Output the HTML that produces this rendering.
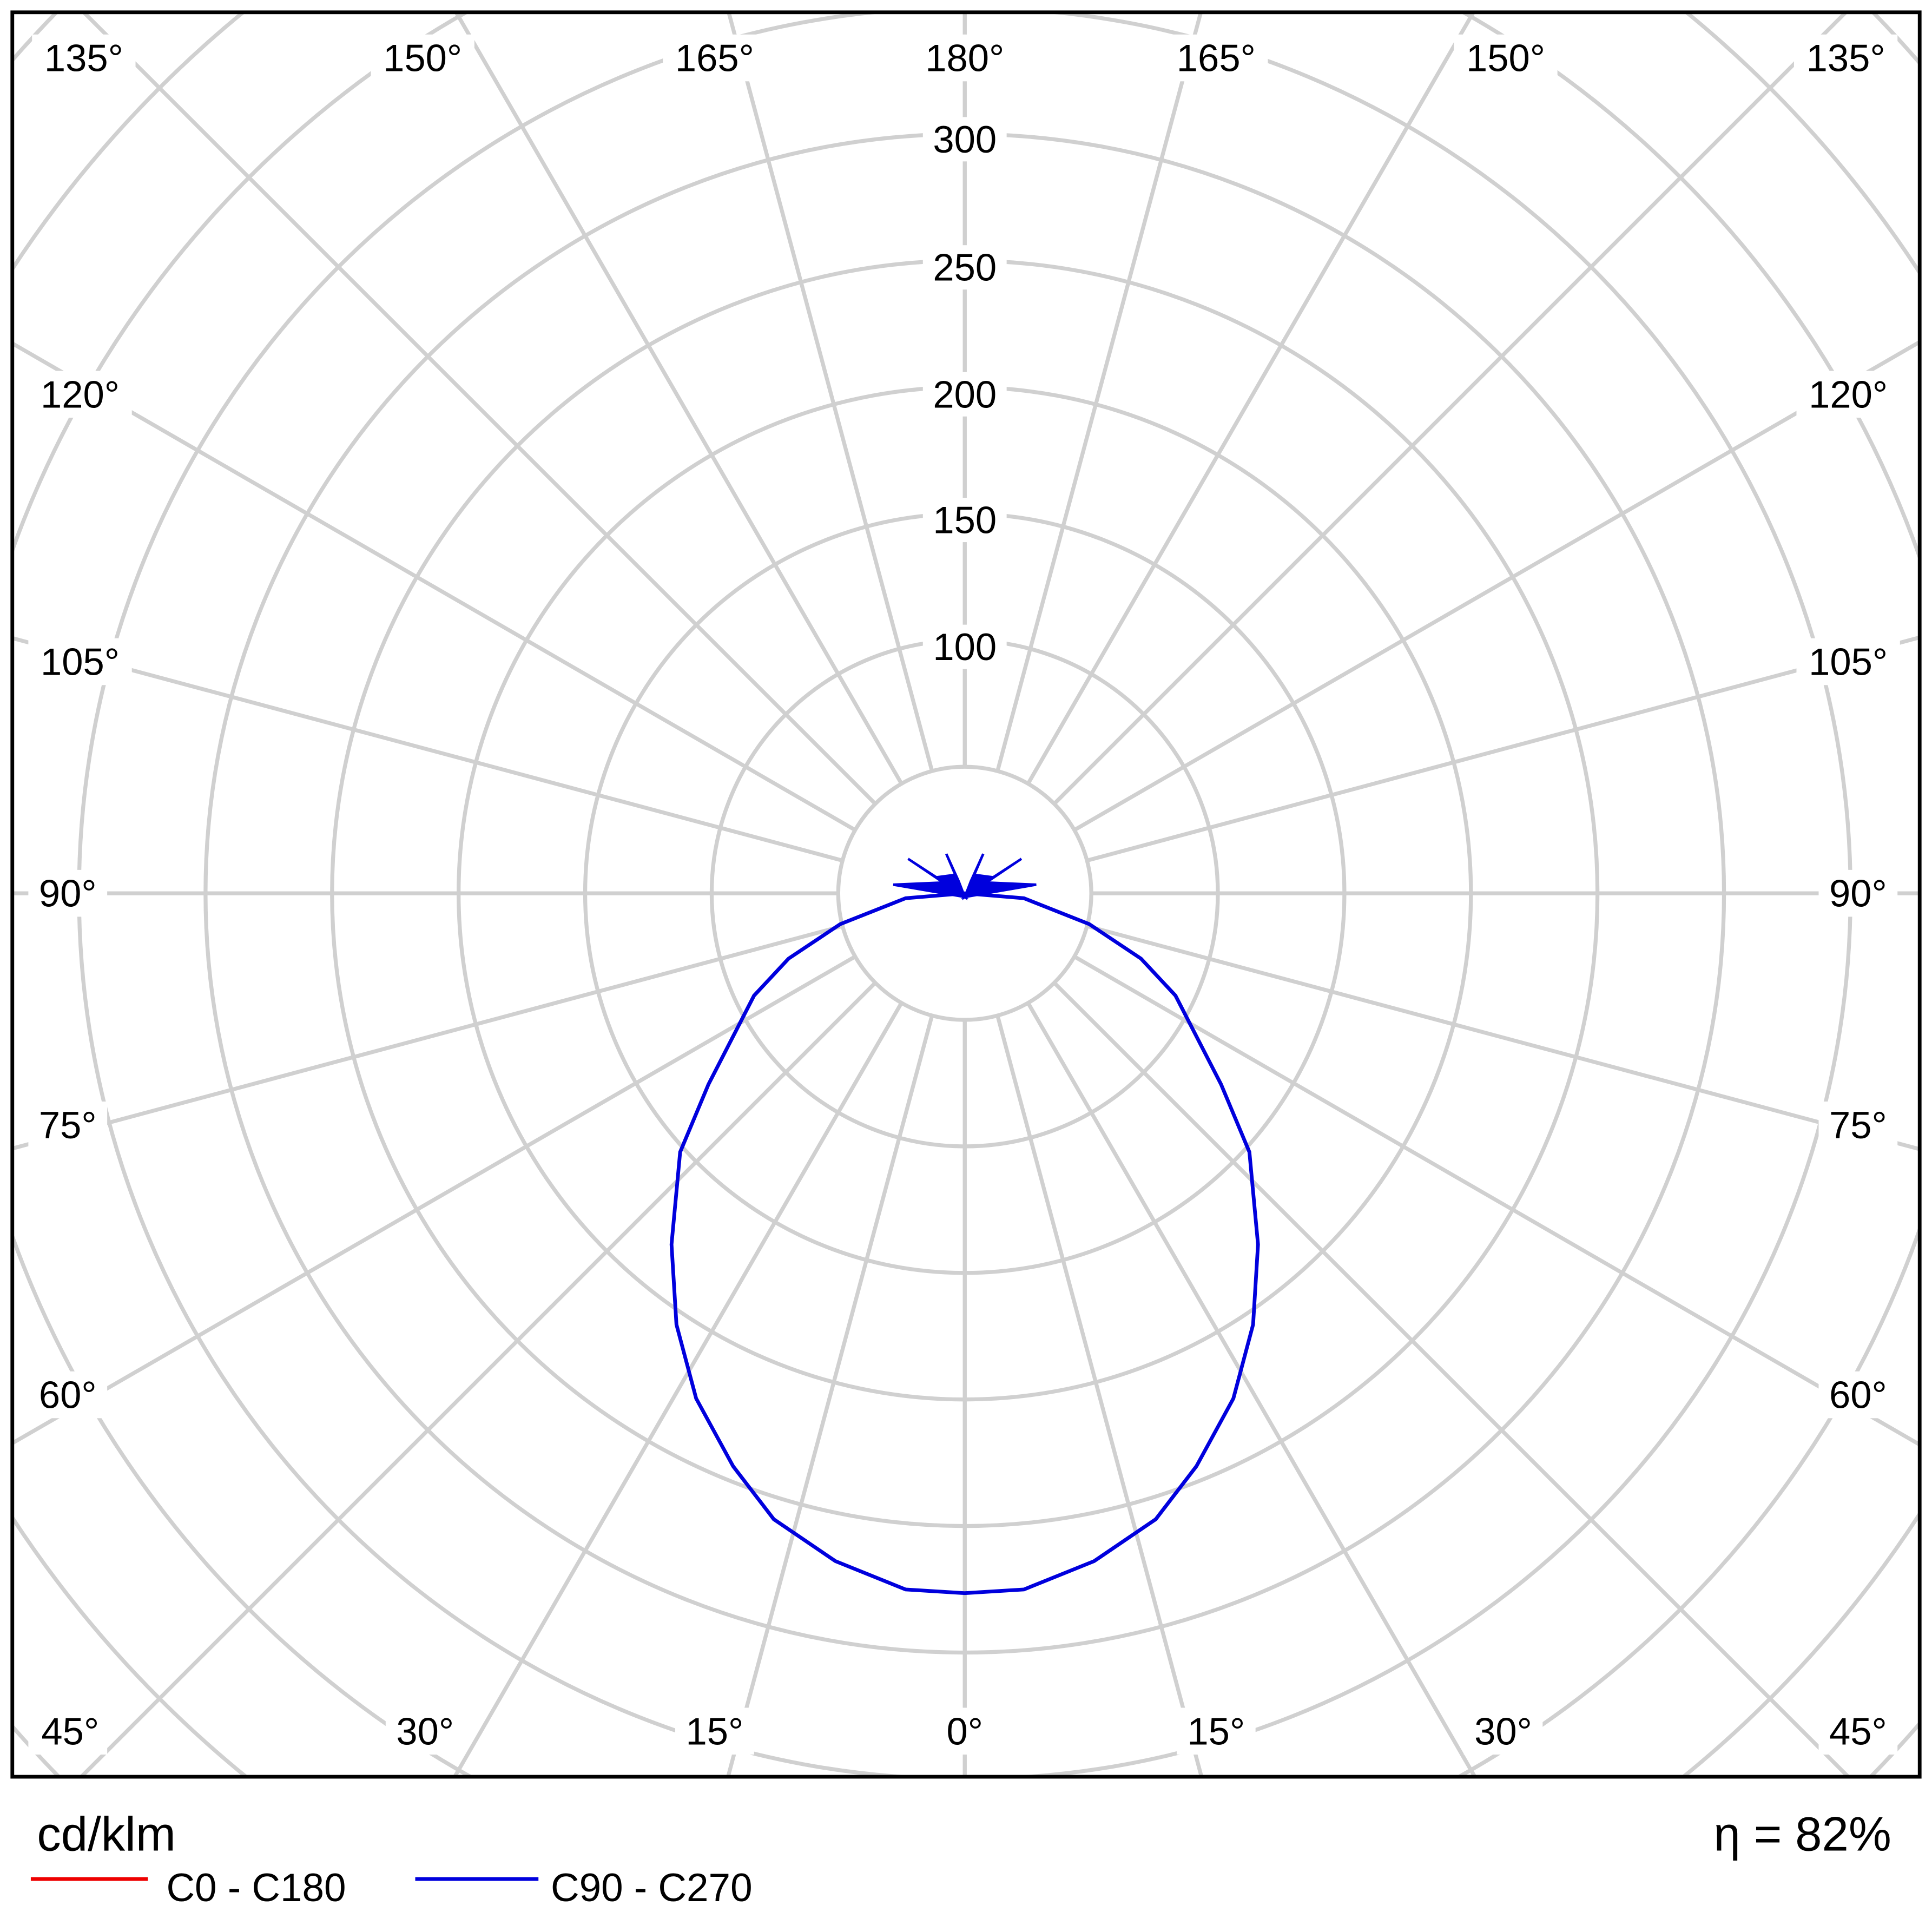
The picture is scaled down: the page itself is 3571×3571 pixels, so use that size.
<!DOCTYPE html>
<html><head><style>html,body{margin:0;padding:0;background:#fff;width:3571px;height:3571px;overflow:hidden;position:relative}svg{display:block;position:absolute;left:0;top:0}</style></head>
<body>
<svg width="3571" height="3571" viewBox="0 0 1568 1568" xmlns="http://www.w3.org/2000/svg" font-family="'Liberation Sans', 'DejaVu Sans', sans-serif">
<defs><clipPath id="c"><rect x="10" y="10" width="1548" height="1432"/></clipPath></defs>
<rect width="1568" height="1568" fill="#fff"/>
<g clip-path="url(#c)" stroke="#d0d0d0" stroke-width="3.2" fill="none">
<circle cx="783" cy="725" r="102.7"/><circle cx="783" cy="725" r="205.4"/><circle cx="783" cy="725" r="308.1"/>
<circle cx="783" cy="725" r="410.8"/><circle cx="783" cy="725" r="513.5"/><circle cx="783" cy="725" r="616.2"/>
<circle cx="783" cy="725" r="718.9"/><circle cx="783" cy="725" r="821.6"/><circle cx="783" cy="725" r="924.3"/>
<circle cx="783" cy="725" r="1027"/><circle cx="783" cy="725" r="1129.7"/>
<g id="sp">
<line x1="783" y1="827.7" x2="783" y2="2000" transform="rotate(0 783 725)"/>
<line x1="783" y1="827.7" x2="783" y2="2000" transform="rotate(15 783 725)"/>
<line x1="783" y1="827.7" x2="783" y2="2000" transform="rotate(30 783 725)"/>
<line x1="783" y1="827.7" x2="783" y2="2000" transform="rotate(45 783 725)"/>
<line x1="783" y1="827.7" x2="783" y2="2000" transform="rotate(60 783 725)"/>
<line x1="783" y1="827.7" x2="783" y2="2000" transform="rotate(75 783 725)"/>
<line x1="783" y1="827.7" x2="783" y2="2000" transform="rotate(90 783 725)"/>
<line x1="783" y1="827.7" x2="783" y2="2000" transform="rotate(105 783 725)"/>
<line x1="783" y1="827.7" x2="783" y2="2000" transform="rotate(120 783 725)"/>
<line x1="783" y1="827.7" x2="783" y2="2000" transform="rotate(135 783 725)"/>
<line x1="783" y1="827.7" x2="783" y2="2000" transform="rotate(150 783 725)"/>
<line x1="783" y1="827.7" x2="783" y2="2000" transform="rotate(165 783 725)"/>
<line x1="783" y1="827.7" x2="783" y2="2000" transform="rotate(180 783 725)"/>
</g>
<use href="#sp" transform="translate(1566 0) scale(-1 1)"/>
</g>
<g fill="#fff">
<rect x="749" y="95" width="68" height="36"/><rect x="749" y="199" width="68" height="36"/><rect x="749" y="302" width="68" height="36"/>
<rect x="749" y="404" width="68" height="36"/><rect x="749" y="507" width="68" height="36"/>
<rect x="26" y="28" width="84" height="38"/><rect x="301" y="28" width="84" height="38"/><rect x="538" y="28" width="84" height="38"/><rect x="741" y="28" width="84" height="38"/>
<rect x="945" y="28" width="84" height="38"/><rect x="1180" y="28" width="84" height="38"/><rect x="1456" y="28" width="84" height="38"/>
<rect x="23" y="301" width="84" height="38"/><rect x="23" y="518" width="84" height="38"/><rect x="23" y="706" width="64" height="38"/><rect x="23" y="894" width="64" height="38"/><rect x="23" y="1113" width="64" height="38"/><rect x="23" y="1386" width="64" height="38"/>
<rect x="1458" y="301" width="84" height="38"/><rect x="1458" y="518" width="84" height="38"/><rect x="1476" y="706" width="64" height="38"/><rect x="1476" y="894" width="64" height="38"/><rect x="1476" y="1113" width="64" height="38"/><rect x="1476" y="1386" width="64" height="38"/>
<rect x="313" y="1386" width="64" height="38"/><rect x="548" y="1386" width="64" height="38"/><rect x="758" y="1386" width="50" height="38"/><rect x="955" y="1386" width="64" height="38"/><rect x="1188" y="1386" width="64" height="38"/>
</g>
<g font-size="31" fill="#000" text-anchor="middle" dominant-baseline="central">
<text x="783" y="113">300</text><text x="783" y="217">250</text><text x="783" y="320">200</text><text x="783" y="422">150</text><text x="783" y="525">100</text>
<text x="68" y="47">135°</text><text x="343" y="47">150°</text><text x="580" y="47">165°</text><text x="783" y="47">180°</text><text x="987" y="47">165°</text><text x="1222" y="47">150°</text><text x="1498" y="47">135°</text>
<text x="65" y="320">120°</text><text x="65" y="537">105°</text><text x="55" y="725">90°</text><text x="55" y="913">75°</text><text x="55" y="1132">60°</text><text x="57" y="1405">45°</text>
<text x="1500" y="320">120°</text><text x="1500" y="537">105°</text><text x="1508" y="725">90°</text><text x="1508" y="913">75°</text><text x="1508" y="1132">60°</text><text x="1508" y="1405">45°</text>
<text x="345" y="1405">30°</text><text x="580" y="1405">15°</text><text x="783" y="1405">0°</text><text x="987" y="1405">15°</text><text x="1220" y="1405">30°</text>
</g>
<path d="M783,725 L735,729 L682,750 L640,778 L612,808 L575,880 L552,935 L545,1010 L549,1075 L565,1135 L595,1190 L628,1233 L678,1267 L735,1290 L783,1293 L831,1290 L888,1267 L938,1233 L971,1190 L1001,1135 L1017,1075 L1021,1010 L1014,935 L991,880 L954,808 L926,778 L884,750 L831,729 Z" fill="none" stroke="#0000dd" stroke-width="3"/>
<g fill="#0000dd" stroke="#0000dd" stroke-width="2">
<path d="M783,728 L737,697 L760,712 L775,710 Z"/><path d="M783,728 L829,697 L806,712 L791,710 Z"/>
<path d="M783,728 L768,693 L778,715 Z"/><path d="M783,728 L798,693 L788,715 Z"/>
<path d="M783,728 L725,718 L770,716 Z"/><path d="M783,728 L841,718 L796,716 Z"/>
</g>
<rect x="10" y="10" width="1548" height="1432" fill="none" stroke="#000" stroke-width="3"/>
<text x="30" y="1502" font-size="39">cd/klm</text>
<text x="1535" y="1502" font-size="39" text-anchor="end">η = 82%</text>
<line x1="25" y1="1525" x2="120" y2="1525" stroke="#ee0000" stroke-width="3"/>
<text x="135" y="1543" font-size="32">C0 - C180</text>
<line x1="337" y1="1525" x2="437" y2="1525" stroke="#0000dd" stroke-width="3"/>
<text x="447" y="1543" font-size="32">C90 - C270</text>
</svg>
</body></html>
